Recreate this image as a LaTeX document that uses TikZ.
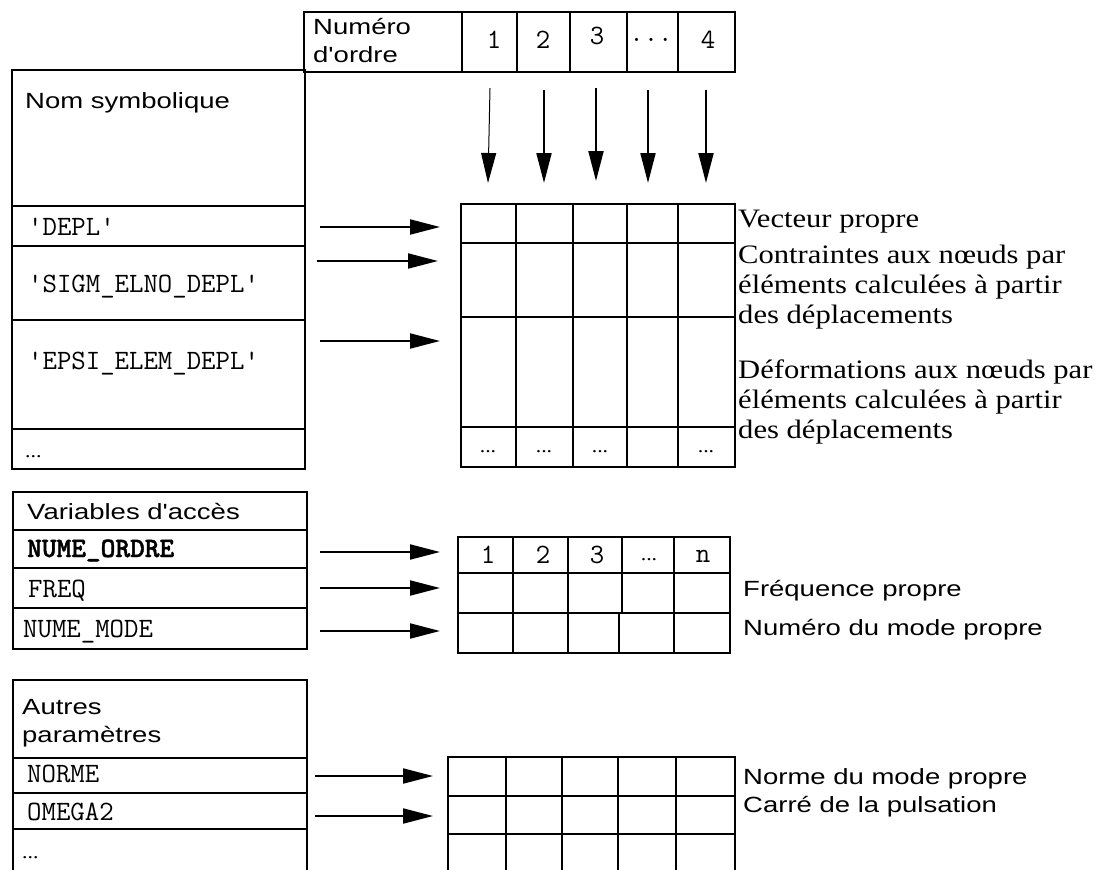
\documentclass[tikz,border=0pt]{standalone}
\usepackage{fontspec}
\usetikzlibrary{arrows.meta}
\newfontfamily\helv[FakeStretch=1.25]{Liberation Sans}
\newfontfamily\tms[FakeStretch=1.15]{Liberation Serif}
\newfontfamily\ttbold{lmmonolt10-bold.otf}[FakeBold=1.5]

\tikzset{
  box/.style={draw, line width=2.2pt},
  arr/.style={draw, line width=2pt, -{Triangle[length=30pt, width=15pt]}},
  lbl/.style={anchor=base west, inner sep=0pt},
  num/.style={anchor=base, inner sep=0pt},
  sanstxt/.style={font=\helv\fontsize{22}{27.5}\selectfont},
  codetxt/.style={font=\ttfamily\fontsize{28}{30}\selectfont},
  codebold/.style={font=\ttbold\fontsize{28}{30}\selectfont},
  romtxt/.style={font=\tms\fontsize{26.6}{30}\selectfont},
  dots/.style={font=\tms\fontsize{19}{20}\selectfont},
}

\begin{document}
\begin{tikzpicture}[x=1pt, y=-1pt]
  \useasboundingbox (0,0) rectangle (1095,870);

  % numero d'ordre
  \path[box] (304,12) rectangle (735,72);
  \foreach \x in {462,517,570,627,678}
    \path[box] (\x,12) -- (\x,72);
  \node[lbl, sanstxt, align=left] (ordre) at (313,62) {Numéro\\d'ordre};
  \node[num, codetxt] (o1) at (494,48) {1};
  \node[num, codetxt] (o2) at (543,48) {2};
  \node[num, codetxt] (o3) at (597,44) {3};
  \node[num, codetxt] (o4) at (651,41) {...};
  \node[num, codetxt] (o5) at (708,48) {4};

  \coordinate (v1a) at (490,88);  \coordinate (v1b) at (488,183);
  \coordinate (v2a) at (544,90);  \coordinate (v2b) at (544,183);
  \coordinate (v3a) at (596,88);  \coordinate (v3b) at (596,181);
  \coordinate (v4a) at (648,90);  \coordinate (v4b) at (648,183);
  \coordinate (v5a) at (706,90);  \coordinate (v5b) at (706,183);
  \draw[arr, line width=1pt] (v1a) -- (v1b);
  \draw[arr] (v2a) -- (v2b);
  \draw[arr] (v3a) -- (v3b);
  \draw[arr] (v4a) -- (v4b);
  \draw[arr] (v5a) -- (v5b);

  % nom symbolique
  \path[box] (12,70) rectangle (305,469);
  \foreach \y in {206,246,320,429}
    \path[box] (12,\y) -- (305,\y);
  \node[lbl, sanstxt] (nom) at (25,108) {Nom symbolique};
  \node[lbl, codetxt] (depl) at (28,235) {'DEPL'};
  \node[lbl, codetxt] (sigm) at (28,292) {'SIGM\_ELNO\_DEPL'};
  \node[lbl, codetxt] (epsi) at (28,369) {'EPSI\_ELEM\_DEPL'};
  \node[lbl, dots] (nomdots) at (25,457) {...};

  \path[box] (461,204) rectangle (735,467);
  \foreach \y in {243,317,427}
    \path[box] (461,\y) -- (735,\y);
  \foreach \x in {516,573,627,678}
    \path[box] (\x,204) -- (\x,467);
  \node[num, dots] (g1) at (488,452) {...};
  \node[num, dots] (g2) at (544,452) {...};
  \node[num, dots] (g3) at (600,452) {...};
  \node[num, dots] (g5) at (706,452) {...};

  \coordinate (deplA) at (320,227);  \coordinate (deplB) at (440,227);
  \coordinate (sigmA) at (317,261);  \coordinate (sigmB) at (438,261);
  \coordinate (epsiA) at (320,341);  \coordinate (epsiB) at (440,341);
  \draw[arr] (deplA) -- (deplB);
  \draw[arr] (sigmA) -- (sigmB);
  \draw[arr] (epsiA) -- (epsiB);

  \node[lbl, romtxt] (vect) at (738,227) {Vecteur propre};
  \node[lbl, romtxt, align=left] (contr) at (738,323)
    {Contraintes aux nœuds par\\éléments calculées à partir\\des déplacements};
  \node[lbl, romtxt, align=left] (deform) at (738,438)
    {Déformations aux nœuds par\\éléments calculées à partir\\des déplacements};

  % variables d'acces
  \path[box] (13,492) rectangle (307,649);
  \foreach \y in {530,568,608}
    \path[box] (13,\y) -- (307,\y);
  \node[lbl, sanstxt] (vars) at (27,519) {Variables d'accès};
  \node[lbl, codebold] (nordre) at (27,557) {NUME\_ORDRE};
  \node[lbl, codetxt] (freq) at (28,597) {FREQ};
  \node[lbl, codetxt] (nmode) at (23,637) {NUME\_MODE};

  \path[box] (458,537) rectangle (730,653);
  \foreach \y in {573,613}
    \path[box] (458,\y) -- (730,\y);
  \foreach \x in {513,568,622,674}
    \path[box] (\x,537) -- (\x,613);
  \foreach \x in {513,568,619,674}
    \path[box] (\x,613) -- (\x,653);
  \node[num, codetxt] (n1) at (488,563) {1};
  \node[num, codetxt] (n2) at (543,563) {2};
  \node[num, codetxt] (n3) at (597,563) {3};
  \node[num, dots] (n4) at (649,560) {...};
  \node[num, codetxt] (n5) at (703,562) {n};

  \coordinate (nordreA) at (320,552);  \coordinate (nordreB) at (440,552);
  \coordinate (freqA) at (320,588);    \coordinate (freqB) at (440,588);
  \coordinate (nmodeA) at (320,631);   \coordinate (nmodeB) at (440,631);
  \draw[arr] (nordreA) -- (nordreB);
  \draw[arr] (freqA) -- (freqB);
  \draw[arr] (nmodeA) -- (nmodeB);

  \node[lbl, sanstxt] (freqlbl) at (743,596) {Fréquence propre};
  \node[lbl, sanstxt] (nmodelbl) at (743,635) {Numéro du mode propre};

  % autres parametres
  \path[box] (13,872) -- (13,680) -- (307,680) -- (307,872);
  \foreach \y in {758,793,829}
    \path[box] (13,\y) -- (307,\y);
  \node[lbl, sanstxt, align=left] (autres) at (22,742) {Autres\\paramètres};
  \node[lbl, codetxt] (norme) at (27,782) {NORME};
  \node[lbl, codetxt] (omega) at (27,820) {OMEGA2};
  \node[lbl, dots] (autdots) at (22,858) {...};

  \path[box] (448,872) -- (448,757) -- (735,757) -- (735,872);
  \foreach \y in {796,834}
    \path[box] (448,\y) -- (735,\y);
  \foreach \x in {506,562,618,676}
    \path[box] (\x,757) -- (\x,872);

  \coordinate (normeA) at (315,776);  \coordinate (normeB) at (433,776);
  \coordinate (omegaA) at (315,816);  \coordinate (omegaB) at (433,816);
  \draw[arr] (normeA) -- (normeB);
  \draw[arr] (omegaA) -- (omegaB);

  \node[lbl, sanstxt] (normelbl) at (743,784) {Norme du mode propre};
  \node[lbl, sanstxt] (omegalbl) at (743,812) {Carré de la pulsation};
\end{tikzpicture}
\end{document}
